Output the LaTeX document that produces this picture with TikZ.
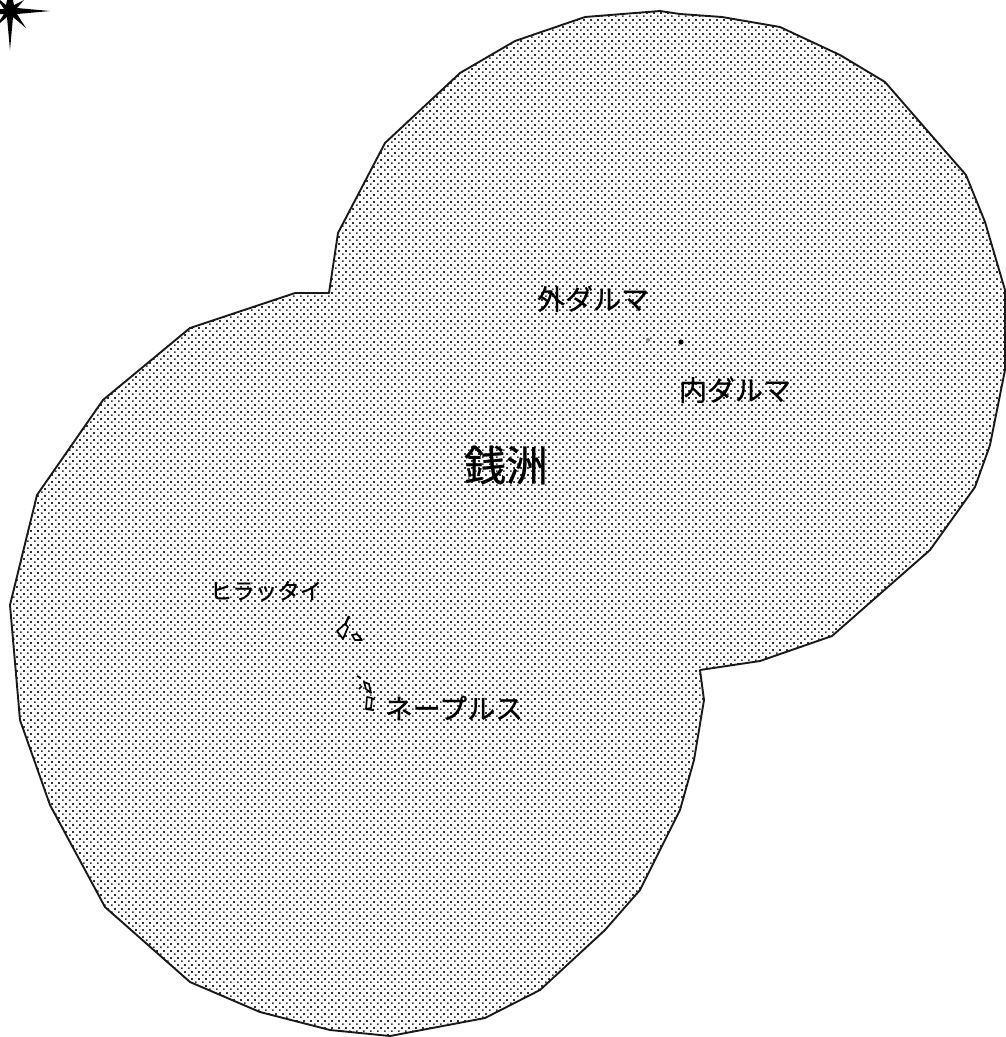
\documentclass[tikz,border=0pt]{standalone}
\usepackage{fontspec}
\newfontfamily\cjk[FakeBold=0.6]{Noto Sans CJK JP}
\usetikzlibrary{patterns}
\pgfdeclarepatternformonly{dotty}{\pgfqpoint{-1pt}{-1pt}}{\pgfqpoint{6pt}{6pt}}{\pgfqpoint{7pt}{7pt}}{
  \pgfpathrectangle{\pgfqpoint{-0.95pt}{-0.95pt}}{\pgfqpoint{1.9pt}{1.9pt}}
  \pgfpathrectangle{\pgfqpoint{2.55pt}{2.55pt}}{\pgfqpoint{1.9pt}{1.9pt}}
  \pgfusepath{fill}
}
\tikzset{
  land/.style={draw=black!90,line width=1.9pt,line join=round,pattern=dotty,pattern color=black!80},
  isle/.style={draw=black,line width=1.7pt,line join=round,fill=white},
  lab/.style={font=\cjk\fontsize{#1}{#1}\selectfont,inner sep=0pt,text=black},
}
\begin{document}
\begin{tikzpicture}[x=1pt,y=-1pt]
\useasboundingbox (0,0) rectangle (1005,1037);
\path[land] (660,11)--(680,14)--(722,17)--(780,27)--(840,55)--(885,82)--(925,128)--(966,175)--(985,222)--(1005,290)--(1005,370)--(990,445)--(975,487)--(930,550)--(832,636)--(760,661)--(700,670)--(704,700)--(694,760)--(680,810)--(640,890)--(605,930)--(540,990)--(485,1018)--(390,1036)--(330,1030)--(260,1012)--(190,982)--(105,907)--(50,805)--(20,720)--(10,605)--(37,495)--(103,400)--(190,328)--(295,293)--(329,293)--(338,233)--(385,143)--(460,73)--(515,41)--(585,17)--cycle;
% star
\fill[black] (50,11)--(17,8)--(24,0)--(14,5)--(13,0)--(7,0)--(6,5)--(0,0)--(0,3)--(4,9)--(0,9)--(0,14)--(4,14)--(0,20)--(0,23)--(7,17)--(10,50)--(13,17)--(26,28)--(17,14)--cycle;
% islets
\path[isle] (337,631)--(345,624)--(348,627)--(343,639)--cycle;
\draw[line width=2.2pt] (345,625)--(349,616);
\path[isle] (352,635)--(357,634)--(362,640)--(355,640)--cycle;
\draw[line width=1.7pt] (357,676)--(361,678);
\draw[line width=1.7pt] (359,689)--(362,686);
\path[isle] (364,682)--(369,684)--(371,693)--(366,689)--cycle;
\path[isle] (367,697)--(372,698)--(371,708)--(366,709)--cycle;
\draw[line width=2pt] (366,709)--(374,710);
\draw[line width=1.5pt] (375,697)--(373,700);
\fill[black] (681,342) circle (2.6pt);
\fill[black!45] (648,340) circle (2pt);
% labels
\node[lab=28pt,anchor=center] (soto) at (593,299) {外ダルマ};
\node[lab=28pt,anchor=center] (uchi) at (735,390) {内ダルマ};
\node[lab=42pt,anchor=center] (zeni) at (506,465) {銭洲};
\node[lab=22.5pt,anchor=center] (hira) at (266,591) {ヒラッタイ};
\node[lab=28pt,anchor=center] (nea) at (454,708) {ネープルス};
\end{tikzpicture}
\end{document}
